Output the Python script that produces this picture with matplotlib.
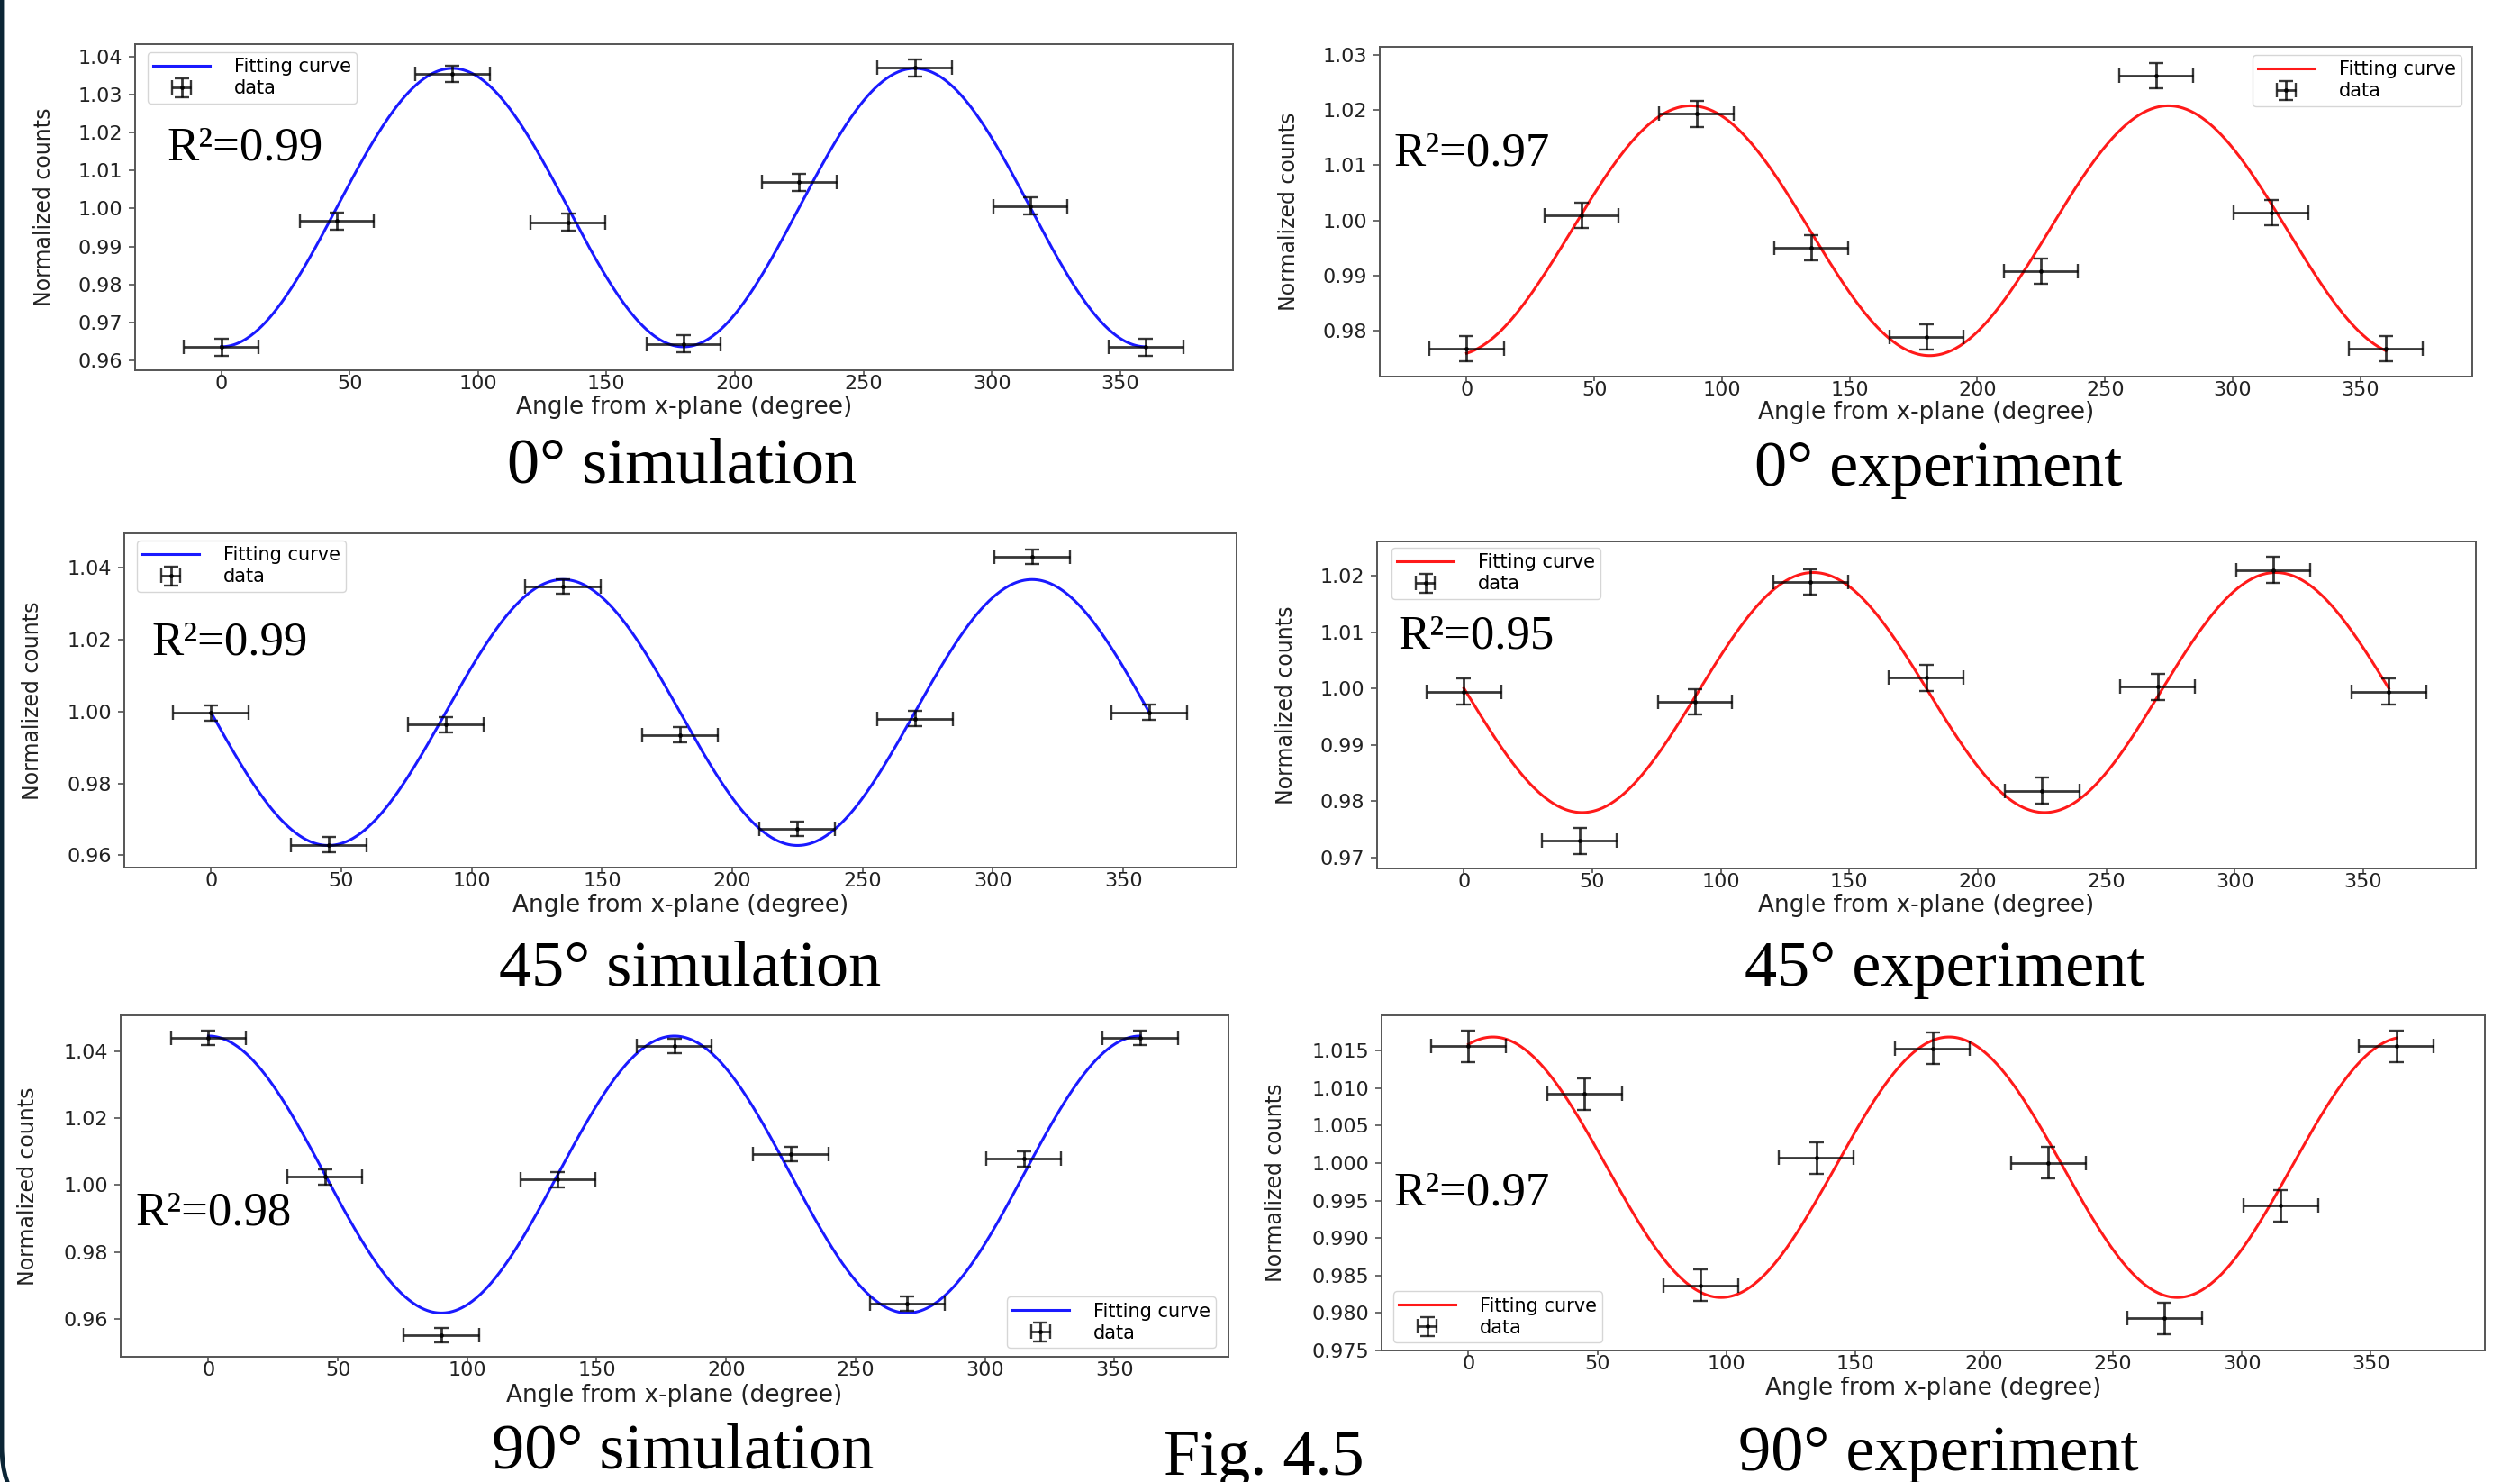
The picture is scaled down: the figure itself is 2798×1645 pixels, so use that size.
import matplotlib
matplotlib.use('Agg')
import matplotlib.pyplot as plt
import numpy as np
from matplotlib.ticker import FormatStrFormatter
from matplotlib.patches import FancyBboxPatch

W, H, DPI = 2798, 1645, 100

# ---------------- data ----------------
angles = [0, 45, 90, 135, 180, 225, 270, 315, 360]
x_err = 14.5

sim0 = [0.9634, 0.9967, 1.0356, 0.9964, 0.9643, 1.0069, 1.0371, 1.0007, 0.9634]
exp0 = [0.9767, 1.0009, 1.0193, 0.9950, 0.9789, 0.9908, 1.0263, 1.0014, 0.9767]
sim45 = [0.9996, 0.9629, 0.9964, 1.0348, 0.9935, 0.9674, 0.9980, 1.0431, 0.9998]
exp45 = [0.9994, 0.9729, 0.9976, 1.0189, 1.0019, 0.9818, 1.0003, 1.0210, 0.9994]
sim90 = [1.0441, 1.0024, 0.9551, 1.0016, 1.0417, 1.0093, 0.9645, 1.0078, 1.0441]
exp90 = [1.0156, 1.0092, 0.9837, 1.0007, 1.0153, 1.0000, 0.9793, 0.9943, 1.0156]

y_errs = [0.0022, 0.0023, 0.0021, 0.0023, 0.0022, 0.0021]

# fitted cosine parameters: offset, amplitude, period (deg), peak position (deg)
fit_offset = [1.00025, 0.99814, 0.99975, 0.99926, 1.00315, 0.99944]
fit_amp = [0.03675, 0.02264, 0.0370, 0.02132, 0.04145, 0.01737]
fit_period = [180, 187, 180, 180, 180, 177]
fit_peak = [90, 87.8, 135, 136, 0.0, 9.5]

r2_labels = ["R²=0.99", "R²=0.97", "R²=0.99", "R²=0.95", "R²=0.98", "R²=0.97"]
captions = ["0° simulation", "0° experiment", "45° simulation",
            "45° experiment", "90° simulation", "90° experiment"]
fig_label = "Fig. 4.5"

xticks = [0, 50, 100, 150, 200, 250, 300, 350]
ytick_start = [0.96, 0.98, 0.96, 0.97, 0.96, 0.975]
ytick_stop = [1.04, 1.03, 1.04, 1.02, 1.04, 1.015]
ytick_step = [0.01, 0.01, 0.02, 0.01, 0.02, 0.005]
ytick_fmt = ['%.2f', '%.2f', '%.2f', '%.2f', '%.2f', '%.3f']

xlims = [(-33.5, 393.9), (-34.0, 393.8), (-33.3, 393.5), (-33.8, 393.9), (-33.9, 394.1), (-33.7, 394.3)]
ylims = [(0.9573, 1.0434), (0.9717, 1.03146), (0.9566, 1.0496), (0.968, 1.0261),
         (0.9486, 1.0508), (0.975, 1.0197)]

all_data = [sim0, exp0, sim45, exp45, sim90, exp90]
curve_colors = ['#1a1aff', '#ff1a1a', '#1a1aff', '#ff1a1a', '#1a1aff', '#ff1a1a']

# ---------------- layout (pixels) ----------------
boxes = [(150, 1369, 49, 411), (1532, 2745, 52, 418),
         (138, 1373, 592, 963), (1529, 2749, 601, 964),
         (134, 1364, 1127, 1506), (1534, 2759, 1127, 1499)]
ylabel_x = [49, 1431, 36, 1428, 31, 1416]
xlabel_y = [452, 458, 1005, 1005, 1549, 1541]
legend_loc = ['upper left', 'upper right', 'upper left', 'upper left', 'lower right', 'lower left']
legend_xy = [(164, 58), (2733, 61), (152, 600), (1545, 608), (1350, 1496), (1547, 1490)]
r2_xy = [(185, 178), (1547, 183), (168, 727), (1552, 719), (150, 1359), (1547, 1338)]
caption_xy = [(757, 536), (2152, 539), (766, 1094), (2159, 1094), (758, 1630), (2152, 1632)]
figlabel_xy = (1403, 1637)

fig = plt.figure(figsize=(W / DPI, H / DPI), dpi=DPI)
fig.patch.set_facecolor('white')

def fx(px):
    return px / W

def fy(py):
    return 1 - py / H

for i in range(6):
    l, r, t, b = boxes[i]
    ax = fig.add_axes([fx(l), fy(b), (r - l) / W, (b - t) / H])
    th = np.linspace(0, 360, 721)
    curve = fit_offset[i] + fit_amp[i] * np.cos(2 * np.pi * (th - fit_peak[i]) / fit_period[i])
    line, = ax.plot(th, curve, color=curve_colors[i], lw=2.2, zorder=2)
    eb = ax.errorbar(angles, all_data[i], xerr=x_err, yerr=y_errs[i], fmt='.',
                     color='black', ecolor='black', elinewidth=2.0, capsize=5.5,
                     capthick=1.7, markersize=5, alpha=0.78, zorder=3)
    ax.set_xlim(*xlims[i])
    ax.set_ylim(*ylims[i])
    ax.set_xticks(xticks)
    yt = np.arange(ytick_start[i], ytick_stop[i] + ytick_step[i] / 2, ytick_step[i])
    ax.set_yticks(yt)
    ax.yaxis.set_major_formatter(FormatStrFormatter(ytick_fmt[i]))
    ax.tick_params(labelsize=16, width=1.1, color='#444444', labelcolor='#222222')
    ax.tick_params(axis='y', length=5, pad=5)
    ax.tick_params(axis='x', length=3.5, pad=0.3)
    for sp in ax.spines.values():
        sp.set_color('#555555')
        sp.set_linewidth(1.4)
    ax.set_xlabel('Angle from x-plane (degree)', fontsize=19, color='#222222')
    ax.set_ylabel('Normalized counts', fontsize=17, color='#222222')
    ax.xaxis.label.set_verticalalignment('center')
    ax.yaxis.label.set_verticalalignment('center')
    ax.xaxis.set_label_coords(0.5, (b - xlabel_y[i]) / (b - t))
    ax.yaxis.set_label_coords((ylabel_x[i] - l) / (r - l), 0.5)

    lx, ly = legend_xy[i]
    ax.legend([line, eb], ['Fitting curve', 'data'], loc=legend_loc[i],
              bbox_to_anchor=(fx(lx), fy(ly)), bbox_transform=fig.transFigure,
              borderaxespad=0, fontsize=15, handlelength=3.0, handletextpad=1.3,
              borderpad=0.3, labelspacing=0.2, framealpha=0.8, edgecolor='#cccccc')

    rx, ry = r2_xy[i]
    fig.text(fx(rx), fy(ry), r2_labels[i], family='Liberation Serif', fontsize=38,
             ha='left', va='baseline', color='black')

    cx, cy = caption_xy[i]
    fig.text(fx(cx), fy(cy), captions[i], family='Liberation Serif', fontsize=52,
             ha='center', va='baseline', color='black')

fig.text(fx(figlabel_xy[0]), fy(figlabel_xy[1]), fig_label, family='Liberation Serif',
         fontsize=52, ha='center', va='baseline', color='black')

# dark rounded slide border on the left
border = FancyBboxPatch((fx(2), fy(1690)), 1.2, (1690 + 200) / H,
                        boxstyle='round,pad=0,rounding_size=0.03',
                        transform=fig.transFigure, facecolor='none',
                        edgecolor='#0b2535', linewidth=3.5, zorder=10,
                        mutation_aspect=W / H)
fig.patches.append(border)

fig.savefig('out.png', dpi=DPI, facecolor='white')
